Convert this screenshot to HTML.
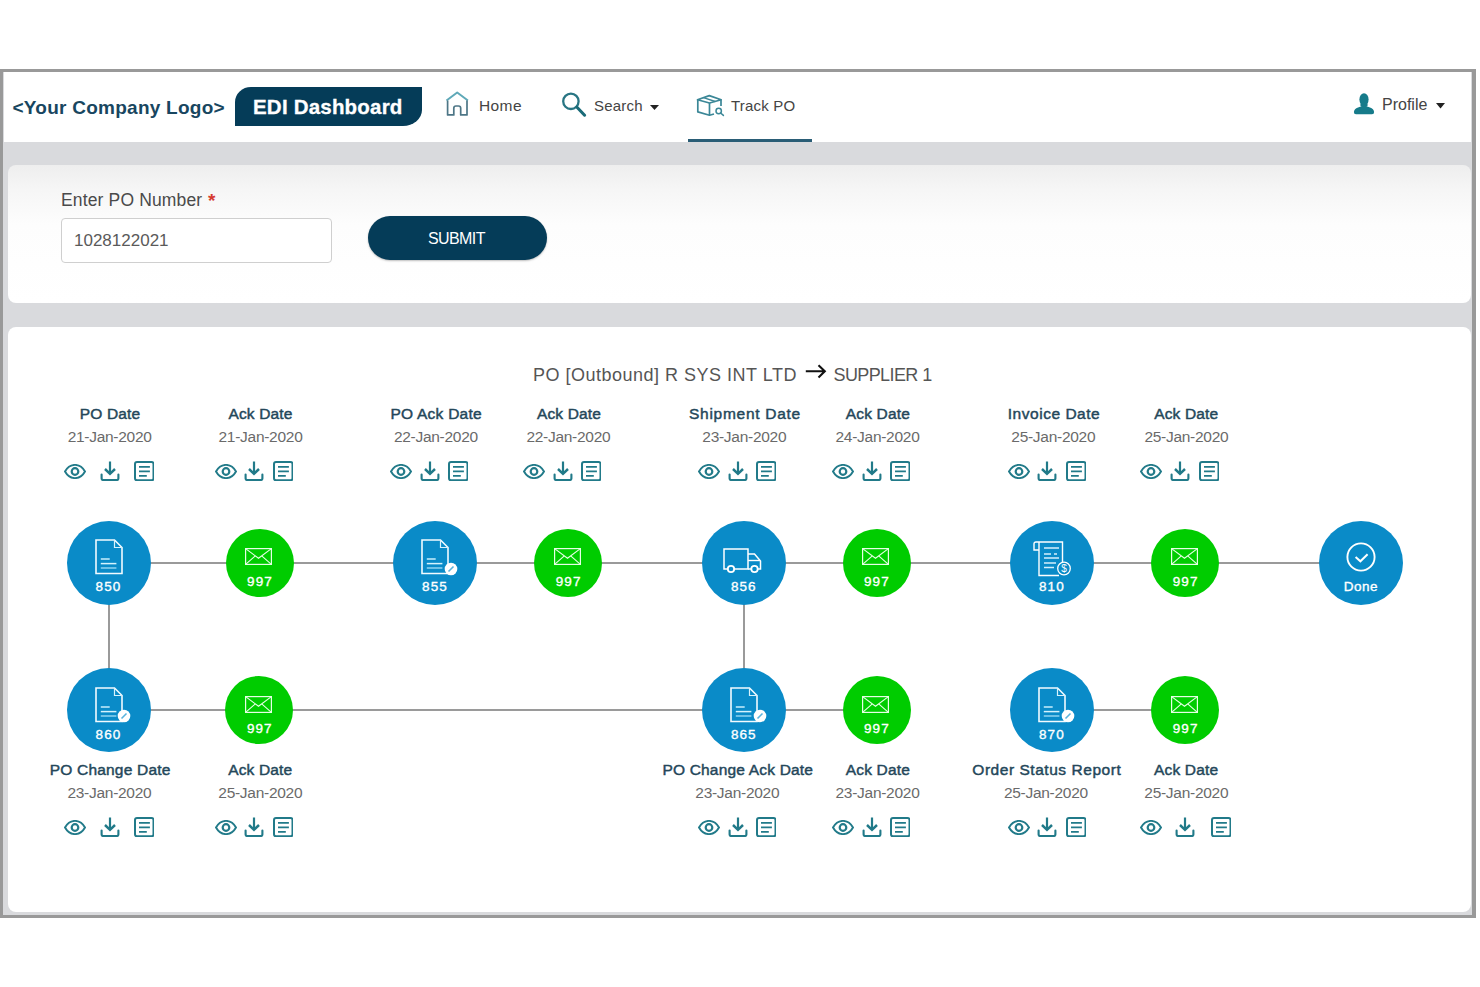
<!DOCTYPE html>
<html><head><meta charset="utf-8">
<style>
*{box-sizing:border-box}
html,body{margin:0;padding:0}
body{width:1480px;height:987px;background:#fff;position:relative;overflow:hidden;font-family:"Liberation Sans",sans-serif}
.a{position:absolute}
.frame{left:0;top:69px;width:1475.5px;height:849px;border-style:solid;border-color:#999;border-width:3px 4.5px 3px 3.5px;background:#d9dadd}
.nav{left:3.5px;top:72px;width:1467px;height:70px;background:#fff}
.card1{left:7.5px;top:165px;width:1463px;height:138px;border-radius:8px;background:linear-gradient(#eeeeee 0,#f6f6f6 25px,#fdfdfd 60px,#fff 100%)}
.card2{left:7.5px;top:327px;width:1463px;height:584.5px;border-radius:8px;background:#fff}
.t{position:absolute;white-space:nowrap;line-height:1}
.ctr{position:absolute;width:240px;text-align:center;white-space:nowrap;line-height:1}
.ttl{font-weight:400;font-size:15.5px;color:#24475a;-webkit-text-stroke:0.45px #24475a}
.dt{font-size:15.5px;color:#6a6a6a}
svg.i{position:absolute;overflow:visible}
.ln{position:absolute;background:#9a9a9a}
.circ{position:absolute;border-radius:50%}
.blue{background:#0a8bc8}
.green{background:#00cc00}
.num{position:absolute;width:60px;text-align:center;color:#fff;font-weight:400;font-size:13px;line-height:1;-webkit-text-stroke:0.35px #fff}
</style></head>
<body>
<div class="a frame"></div>
<div class="a nav"></div>
<div class="a card1"></div>
<div class="a card2"></div>

<!-- NAVBAR -->
<div class="t" style="left:12.5px;top:97.5px;font-size:19px;font-weight:700;color:#184660;letter-spacing:0.25px">&lt;Your Company Logo&gt;</div>
<div class="a" style="left:235px;top:86.8px;width:186.5px;height:39.4px;background:#053c58;border-radius:16px 0 19px 0 / 15px 0 16px 0"></div>
<div class="t" style="left:253px;top:97px;font-size:20.5px;font-weight:700;color:#fff;letter-spacing:0.2px;-webkit-text-stroke:0.3px #fff">EDI Dashboard</div>

<div class="t" style="left:479px;top:97.8px;font-size:15.5px;color:#444;letter-spacing:0.4px">Home</div>
<div class="t" style="left:594px;top:97.8px;font-size:15px;color:#444;letter-spacing:0.2px">Search</div>
<div class="t" style="left:731px;top:97.8px;font-size:15px;color:#444;letter-spacing:0.2px">Track PO</div>
<div class="t" style="left:1382px;top:96.5px;font-size:16px;color:#444">Profile</div>
<div class="a" style="left:687.5px;top:139px;width:124.5px;height:3.3px;background:#2a5d76"></div>

<!-- FORM -->
<div class="t" style="left:61px;top:191.5px;font-size:17.5px;color:#4a4a4a;letter-spacing:0.15px">Enter PO Number</div>
<div class="t" style="left:208px;top:190.8px;font-size:19px;font-weight:700;color:#d63b30">*</div>
<div class="a" style="left:61px;top:217.5px;width:271px;height:45px;border:1px solid #cfcfcf;border-radius:4px;background:#fff"></div>
<div class="t" style="left:74px;top:232px;font-size:17px;color:#5a5a5a">1028122021</div>
<div class="a" style="left:367.5px;top:216px;width:179px;height:44px;border-radius:22px;background:#053c58;box-shadow:0 1px 2px rgba(0,0,0,.25)"></div>
<div class="t" style="left:428px;top:230.8px;font-size:16px;color:#fff;letter-spacing:-0.6px">SUBMIT</div>

<!-- TITLE -->
<div class="t" style="left:533px;top:365.5px;font-size:18px;color:#555;letter-spacing:0.5px">PO [Outbound] R SYS INT LTD</div>
<div class="t" style="left:833.5px;top:365.5px;font-size:18px;color:#555;letter-spacing:-0.6px">SUPPLIER 1</div>


<!-- NAV ICONS -->
<svg class="i" style="left:440px;top:88px" width="35" height="32" viewBox="0 0 35 32">
<path d="M6.5,12.5 L17.2,4.5 L27.9,12.5" fill="none" stroke="#5fa9b8" stroke-width="2" stroke-linejoin="round"/>
<path d="M7.6,12.5 V26.9 H13.8 V20.2 Q13.8,18 16,18 H18.5 Q20.7,18 20.7,20.2 V26.9 H27 V12.5" fill="none" stroke="#4d7686" stroke-width="1.7" stroke-linejoin="round"/>
</svg>
<svg class="i" style="left:555px;top:88px" width="40" height="32" viewBox="0 0 40 32">
<circle cx="15.9" cy="13.3" r="7.7" fill="none" stroke="#287583" stroke-width="2.3"/>
<path d="M22,19.2 L29.6,27.2" stroke="#1a6b78" stroke-width="3.1" stroke-linecap="round"/>
</svg>
<svg class="i" style="left:650px;top:105px" width="9" height="5" viewBox="0 0 9 5"><path d="M0,0 H9 L4.5,5 Z" fill="#222"/></svg>
<svg class="i" style="left:692px;top:90px" width="36" height="30" viewBox="0 0 36 30">
<path d="M5.5,9.7 L17.3,5.6 L29.2,9.7 L17.5,13 Z" fill="none" stroke="#3b8797" stroke-width="1.7" stroke-linejoin="round"/>
<path d="M11.5,7.6 L23.2,11.5" stroke="#3b8797" stroke-width="1.4"/>
<path d="M5.8,9.7 V21.9 L17.5,25.2 L22,24" fill="none" stroke="#3b8797" stroke-width="1.7" stroke-linejoin="round"/>
<path d="M17.5,13 V25.2 M29,9.7 V16" fill="none" stroke="#3b8797" stroke-width="1.7"/>
<circle cx="26.7" cy="21" r="2.7" fill="none" stroke="#3b8797" stroke-width="1.5"/>
<path d="M28.6,23 L31.4,25.4" stroke="#3b8797" stroke-width="1.5" stroke-linecap="round"/>
</svg>
<svg class="i" style="left:1350px;top:90px" width="28" height="28" viewBox="0 0 28 28">
<ellipse cx="14" cy="9.6" rx="4.6" ry="6.4" fill="#167b8a"/>
<path d="M9.8,14.5 Q10.5,16 11.5,16.3 L8,17.5 Q4.2,18.8 3.9,22 Q3.8,24.2 6,24.2 H22 Q24.2,24.2 24.1,22 Q23.8,18.8 20,17.5 L16.5,16.3 Q17.5,16 18.2,14.5 Z" fill="#167b8a"/>
</svg>
<svg class="i" style="left:1435.5px;top:102.7px" width="9" height="5.5" viewBox="0 0 9 5.5"><path d="M0,0 H9 L4.5,5.5 Z" fill="#222"/></svg>
<svg class="i" style="left:804px;top:362px" width="24" height="18" viewBox="0 0 24 18">
<path d="M1.8,9.3 H20.5 M14.5,3.2 L20.8,9.3 L14.5,15.4" fill="none" stroke="#111" stroke-width="2.1" stroke-linejoin="miter"/>
</svg>
<svg width="0" height="0" style="position:absolute">
<defs>
<symbol id="eye" viewBox="0 0 22 15"><path d="M1,7.5 C3.8,2.5 7.4,0.9 11,0.9 C14.6,0.9 18.2,2.5 21,7.5 C18.2,12.5 14.6,14.1 11,14.1 C7.4,14.1 3.8,12.5 1,7.5 Z" fill="none" stroke="#217a89" stroke-width="1.9"/><circle cx="11" cy="7.5" r="3.3" fill="none" stroke="#217a89" stroke-width="2.2"/></symbol>
<symbol id="dl" viewBox="0 0 20 20"><path d="M10,0.5 V12" stroke="#217a89" stroke-width="2.2" fill="none"/><path d="M5,8 L10,12.8 L15,8" stroke="#217a89" stroke-width="2.5" fill="none" stroke-linejoin="miter"/><path d="M1.6,13.6 V17.5 Q1.6,19 3.1,19 H16.9 Q18.4,19 18.4,17.5 V13.6" stroke="#217a89" stroke-width="2.1" fill="none" stroke-linecap="round"/></symbol>
<symbol id="doc" viewBox="0 0 20 20"><rect x="1" y="1" width="18.5" height="18.3" rx="2" fill="none" stroke="#217a89" stroke-width="2"/><path d="M5,5.8 H15.9 M5,10.4 H15.9 M5,14.9 H12.8" stroke="#217a89" stroke-width="1.7"/></symbol>
<symbol id="env" viewBox="0 0 27 17"><rect x="0.6" y="0.6" width="25.8" height="15.8" fill="none" stroke="#e6ffe6" stroke-width="1.2"/><path d="M0.6,0.6 L13.5,10.2 L26.4,0.6 M0.6,16.4 L10.3,7.8 M26.4,16.4 L16.7,7.8" fill="none" stroke="#e6ffe6" stroke-width="1.1"/></symbol>
<symbol id="pdoc" viewBox="0 0 28 36"><path d="M1,1 H19.5 L27,8.5 V34.5 H1 Z" fill="none" stroke="#f2fbff" stroke-width="1.6"/><path d="M19.5,1.8 V8.5 H26.2" fill="none" stroke="#d8f2fc" stroke-width="1.2"/><path d="M5.8,20 H14.7" stroke="#c8eefc" stroke-width="1.5"/><path d="M5.8,24.6 H21.4" stroke="#d6f3fd" stroke-width="1.5"/><path d="M5.8,29 H21.4" stroke="#8fd3f0" stroke-width="1.5"/></symbol>
<symbol id="truck" viewBox="0 0 39 26"><path d="M1,1 H25 V21 H1 Z" fill="none" stroke="#fff" stroke-width="1.5"/><path d="M25,6 H31.5 L37.5,13 V21 H25" fill="none" stroke="#fff" stroke-width="1.5"/><path d="M25,12.5 H37" stroke="#fff" stroke-width="1.4"/><circle cx="8" cy="21" r="3.2" fill="#0a8bc8" stroke="#fff" stroke-width="1.8"/><circle cx="31.5" cy="21" r="3.2" fill="#0a8bc8" stroke="#fff" stroke-width="1.8"/></symbol>
<symbol id="inv" viewBox="0 0 38 36"><path d="M6,1 H29.5 V24" fill="none" stroke="#fff" stroke-width="1.4"/><path d="M6,1 V34.5 H26" fill="none" stroke="#fff" stroke-width="1.4"/><path d="M6,1 H3 Q1,1 1,3 V9 H6" fill="none" stroke="#fff" stroke-width="1.4"/><path d="M11,7 H26 M11,13 H18 M21,13 H24 M11,17 H26 M11,22 H23 M11,26.5 H21" stroke="#d5f0fb" stroke-width="1.4"/><circle cx="31" cy="27.5" r="6.3" fill="#0a8bc8" stroke="#fff" stroke-width="1.3"/><text x="31" y="31.3" text-anchor="middle" font-size="10" font-weight="400" fill="#fff" font-family="Liberation Sans">$</text></symbol>
<symbol id="chk" viewBox="0 0 30 30"><circle cx="15" cy="15" r="13.6" fill="none" stroke="#fff" stroke-width="1.9"/><path d="M9.6,15 L14.4,19.3 L21.6,12.2" fill="none" stroke="#fff" stroke-width="2"/></symbol>
<symbol id="badge" viewBox="0 0 14 14"><circle cx="7" cy="7" r="6.3" fill="#fff"/><path d="M4.5,9.5 L9.5,4.5" stroke="#5ab3dd" stroke-width="1.6"/></symbol>
</defs></svg>
<div class="ln" style="left:108.5px;top:561.5px;width:1252.5px;height:2px"></div>
<div class="ln" style="left:108.5px;top:709.2px;width:768.0px;height:2px"></div>
<div class="ln" style="left:1052px;top:709.2px;width:133px;height:2px"></div>
<div class="ln" style="left:107.7px;top:562.5px;width:2px;height:147.70000000000005px"></div>
<div class="ln" style="left:742.8px;top:562.5px;width:2px;height:147.70000000000005px"></div>
<div class="circ blue" style="left:66.5px;top:520.5px;width:84px;height:84px"></div>
<svg class="i" style="left:94.7px;top:539.1px" width="28" height="36" viewBox="0 0 28 36"><use href="#pdoc" width="28" height="36"/></svg>
<div class="num" style="left:78.5px;top:579.8px;font-size:13.5px;letter-spacing:1.1px">850</div>
<div class="circ green" style="left:225.60000000000002px;top:528.5px;width:68px;height:68px"></div>
<svg class="i" style="left:245.4px;top:548.2px" width="27" height="17" viewBox="0 0 27 17"><use href="#env" width="27" height="17"/></svg>
<div class="num" style="left:230.00000000000003px;top:574.5px;font-size:13.5px;letter-spacing:1.1px">997</div>
<div class="circ blue" style="left:393px;top:520.5px;width:84px;height:84px"></div>
<svg class="i" style="left:421.0px;top:539.1px" width="28" height="36" viewBox="0 0 28 36"><use href="#pdoc" width="28" height="36"/></svg>
<svg class="i" style="left:443.8px;top:561.7px" width="14" height="14" viewBox="0 0 14 14"><use href="#badge" width="14" height="14"/></svg>
<div class="num" style="left:405px;top:579.8px;font-size:13.5px;letter-spacing:1.1px">855</div>
<div class="circ green" style="left:534.3px;top:528.5px;width:68px;height:68px"></div>
<svg class="i" style="left:554.1px;top:548.2px" width="27" height="17" viewBox="0 0 27 17"><use href="#env" width="27" height="17"/></svg>
<div class="num" style="left:538.6999999999999px;top:574.5px;font-size:13.5px;letter-spacing:1.1px">997</div>
<div class="circ blue" style="left:701.8px;top:520.5px;width:84px;height:84px"></div>
<svg class="i" style="left:723.3px;top:547.8px" width="39" height="26" viewBox="0 0 39 26"><use href="#truck" width="39" height="26"/></svg>
<div class="num" style="left:713.8px;top:579.8px;font-size:13.5px;letter-spacing:1.1px">856</div>
<div class="circ green" style="left:842.5px;top:528.5px;width:68px;height:68px"></div>
<svg class="i" style="left:862.3px;top:548.2px" width="27" height="17" viewBox="0 0 27 17"><use href="#env" width="27" height="17"/></svg>
<div class="num" style="left:846.9px;top:574.5px;font-size:13.5px;letter-spacing:1.1px">997</div>
<div class="circ blue" style="left:1009.9000000000001px;top:520.5px;width:84px;height:84px"></div>
<svg class="i" style="left:1032.9px;top:540.5px" width="38" height="36" viewBox="0 0 38 36"><use href="#inv" width="38" height="36"/></svg>
<div class="num" style="left:1021.9000000000001px;top:579.8px;font-size:13.5px;letter-spacing:1.1px">810</div>
<div class="circ green" style="left:1151.2px;top:528.5px;width:68px;height:68px"></div>
<svg class="i" style="left:1171.0px;top:548.2px" width="27" height="17" viewBox="0 0 27 17"><use href="#env" width="27" height="17"/></svg>
<div class="num" style="left:1155.6000000000001px;top:574.5px;font-size:13.5px;letter-spacing:1.1px">997</div>
<div class="circ blue" style="left:1319px;top:520.5px;width:84px;height:84px"></div>
<svg class="i" style="left:1346.0px;top:542.0px" width="30" height="30" viewBox="0 0 30 30"><use href="#chk" width="30" height="30"/></svg>
<div class="num" style="left:1331px;top:579.8px;font-size:13.5px;letter-spacing:0.5px">Done</div>
<div class="circ blue" style="left:66.5px;top:668.2px;width:84px;height:84px"></div>
<svg class="i" style="left:94.5px;top:686.8px" width="28" height="36" viewBox="0 0 28 36"><use href="#pdoc" width="28" height="36"/></svg>
<svg class="i" style="left:117.3px;top:709.4px" width="14" height="14" viewBox="0 0 14 14"><use href="#badge" width="14" height="14"/></svg>
<div class="num" style="left:78.5px;top:727.5px;font-size:13.5px;letter-spacing:1.1px">860</div>
<div class="circ green" style="left:225.39999999999998px;top:676.2px;width:68px;height:68px"></div>
<svg class="i" style="left:245.2px;top:695.9px" width="27" height="17" viewBox="0 0 27 17"><use href="#env" width="27" height="17"/></svg>
<div class="num" style="left:229.79999999999998px;top:722.2px;font-size:13.5px;letter-spacing:1.1px">997</div>
<div class="circ blue" style="left:701.8px;top:668.2px;width:84px;height:84px"></div>
<svg class="i" style="left:729.8px;top:686.8px" width="28" height="36" viewBox="0 0 28 36"><use href="#pdoc" width="28" height="36"/></svg>
<svg class="i" style="left:752.6px;top:709.4px" width="14" height="14" viewBox="0 0 14 14"><use href="#badge" width="14" height="14"/></svg>
<div class="num" style="left:713.8px;top:727.5px;font-size:13.5px;letter-spacing:1.1px">865</div>
<div class="circ green" style="left:842.5px;top:676.2px;width:68px;height:68px"></div>
<svg class="i" style="left:862.3px;top:695.9px" width="27" height="17" viewBox="0 0 27 17"><use href="#env" width="27" height="17"/></svg>
<div class="num" style="left:846.9px;top:722.2px;font-size:13.5px;letter-spacing:1.1px">997</div>
<div class="circ blue" style="left:1009.9000000000001px;top:668.2px;width:84px;height:84px"></div>
<svg class="i" style="left:1037.9px;top:686.8px" width="28" height="36" viewBox="0 0 28 36"><use href="#pdoc" width="28" height="36"/></svg>
<svg class="i" style="left:1060.7px;top:709.4px" width="14" height="14" viewBox="0 0 14 14"><use href="#badge" width="14" height="14"/></svg>
<div class="num" style="left:1021.9000000000001px;top:727.5px;font-size:13.5px;letter-spacing:1.1px">870</div>
<div class="circ green" style="left:1151.2px;top:676.2px;width:68px;height:68px"></div>
<svg class="i" style="left:1171.0px;top:695.9px" width="27" height="17" viewBox="0 0 27 17"><use href="#env" width="27" height="17"/></svg>
<div class="num" style="left:1155.6000000000001px;top:722.2px;font-size:13.5px;letter-spacing:1.1px">997</div>
<div class="ctr ttl" style="left:-10.0px;top:406.1px;letter-spacing:0.13px">PO Date</div>
<div class="ctr dt" style="left:-10.4px;top:429.1px;letter-spacing:-0.28px">21-Jan-2020</div>
<svg class="i" style="left:63.7px;top:463.7px" width="22" height="15" viewBox="0 0 22 15"><use href="#eye" width="22" height="15"/></svg>
<svg class="i" style="left:99.5px;top:461.2px" width="20" height="20" viewBox="0 0 20 20"><use href="#dl" width="20" height="20"/></svg>
<svg class="i" style="left:134.1px;top:461.2px" width="20" height="20" viewBox="0 0 20 20"><use href="#doc" width="20" height="20"/></svg>
<div class="ctr ttl" style="left:140.5px;top:406.1px;letter-spacing:0.16px">Ack Date</div>
<div class="ctr dt" style="left:140.5px;top:429.1px;letter-spacing:-0.28px">21-Jan-2020</div>
<svg class="i" style="left:215.0px;top:463.7px" width="22" height="15" viewBox="0 0 22 15"><use href="#eye" width="22" height="15"/></svg>
<svg class="i" style="left:243.8px;top:461.2px" width="20" height="20" viewBox="0 0 20 20"><use href="#dl" width="20" height="20"/></svg>
<svg class="i" style="left:272.9px;top:461.2px" width="20" height="20" viewBox="0 0 20 20"><use href="#doc" width="20" height="20"/></svg>
<div class="ctr ttl" style="left:316.2px;top:406.1px;letter-spacing:0.25px">PO Ack Date</div>
<div class="ctr dt" style="left:315.9px;top:429.1px;letter-spacing:-0.28px">22-Jan-2020</div>
<svg class="i" style="left:390.0px;top:463.7px" width="22" height="15" viewBox="0 0 22 15"><use href="#eye" width="22" height="15"/></svg>
<svg class="i" style="left:419.9px;top:461.2px" width="20" height="20" viewBox="0 0 20 20"><use href="#dl" width="20" height="20"/></svg>
<svg class="i" style="left:448.0px;top:461.2px" width="20" height="20" viewBox="0 0 20 20"><use href="#doc" width="20" height="20"/></svg>
<div class="ctr ttl" style="left:449.0px;top:406.1px;letter-spacing:0.16px">Ack Date</div>
<div class="ctr dt" style="left:448.4px;top:429.1px;letter-spacing:-0.28px">22-Jan-2020</div>
<svg class="i" style="left:523.0px;top:463.7px" width="22" height="15" viewBox="0 0 22 15"><use href="#eye" width="22" height="15"/></svg>
<svg class="i" style="left:552.9px;top:461.2px" width="20" height="20" viewBox="0 0 20 20"><use href="#dl" width="20" height="20"/></svg>
<svg class="i" style="left:581.3px;top:461.2px" width="20" height="20" viewBox="0 0 20 20"><use href="#doc" width="20" height="20"/></svg>
<div class="ctr ttl" style="left:625.0px;top:406.1px;letter-spacing:0.72px">Shipment Date</div>
<div class="ctr dt" style="left:624.3px;top:429.1px;letter-spacing:-0.28px">23-Jan-2020</div>
<svg class="i" style="left:698.4px;top:463.7px" width="22" height="15" viewBox="0 0 22 15"><use href="#eye" width="22" height="15"/></svg>
<svg class="i" style="left:728.4px;top:461.2px" width="20" height="20" viewBox="0 0 20 20"><use href="#dl" width="20" height="20"/></svg>
<svg class="i" style="left:756.4px;top:461.2px" width="20" height="20" viewBox="0 0 20 20"><use href="#doc" width="20" height="20"/></svg>
<div class="ctr ttl" style="left:757.9px;top:406.1px;letter-spacing:0.16px">Ack Date</div>
<div class="ctr dt" style="left:757.5px;top:429.1px;letter-spacing:-0.28px">24-Jan-2020</div>
<svg class="i" style="left:831.5px;top:463.7px" width="22" height="15" viewBox="0 0 22 15"><use href="#eye" width="22" height="15"/></svg>
<svg class="i" style="left:861.7px;top:461.2px" width="20" height="20" viewBox="0 0 20 20"><use href="#dl" width="20" height="20"/></svg>
<svg class="i" style="left:889.5px;top:461.2px" width="20" height="20" viewBox="0 0 20 20"><use href="#doc" width="20" height="20"/></svg>
<div class="ctr ttl" style="left:934.0px;top:406.1px;letter-spacing:0.53px">Invoice Date</div>
<div class="ctr dt" style="left:933.3px;top:429.1px;letter-spacing:-0.28px">25-Jan-2020</div>
<svg class="i" style="left:1007.5px;top:463.7px" width="22" height="15" viewBox="0 0 22 15"><use href="#eye" width="22" height="15"/></svg>
<svg class="i" style="left:1036.9px;top:461.2px" width="20" height="20" viewBox="0 0 20 20"><use href="#dl" width="20" height="20"/></svg>
<svg class="i" style="left:1065.8px;top:461.2px" width="20" height="20" viewBox="0 0 20 20"><use href="#doc" width="20" height="20"/></svg>
<div class="ctr ttl" style="left:1066.3px;top:406.1px;letter-spacing:0.16px">Ack Date</div>
<div class="ctr dt" style="left:1066.4px;top:429.1px;letter-spacing:-0.28px">25-Jan-2020</div>
<svg class="i" style="left:1140.2px;top:463.7px" width="22" height="15" viewBox="0 0 22 15"><use href="#eye" width="22" height="15"/></svg>
<svg class="i" style="left:1170.0px;top:461.2px" width="20" height="20" viewBox="0 0 20 20"><use href="#dl" width="20" height="20"/></svg>
<svg class="i" style="left:1198.9px;top:461.2px" width="20" height="20" viewBox="0 0 20 20"><use href="#doc" width="20" height="20"/></svg>
<div class="ctr ttl" style="left:-9.9px;top:761.9px;letter-spacing:0.2px">PO Change Date</div>
<div class="ctr dt" style="left:-10.6px;top:784.9px;letter-spacing:-0.28px">23-Jan-2020</div>
<svg class="i" style="left:63.5px;top:819.5px" width="22" height="15" viewBox="0 0 22 15"><use href="#eye" width="22" height="15"/></svg>
<svg class="i" style="left:99.5px;top:817.0px" width="20" height="20" viewBox="0 0 20 20"><use href="#dl" width="20" height="20"/></svg>
<svg class="i" style="left:134.3px;top:817.0px" width="20" height="20" viewBox="0 0 20 20"><use href="#doc" width="20" height="20"/></svg>
<div class="ctr ttl" style="left:140.3px;top:761.9px;letter-spacing:0.16px">Ack Date</div>
<div class="ctr dt" style="left:140.3px;top:784.9px;letter-spacing:-0.28px">25-Jan-2020</div>
<svg class="i" style="left:214.9px;top:819.5px" width="22" height="15" viewBox="0 0 22 15"><use href="#eye" width="22" height="15"/></svg>
<svg class="i" style="left:243.7px;top:817.0px" width="20" height="20" viewBox="0 0 20 20"><use href="#dl" width="20" height="20"/></svg>
<svg class="i" style="left:272.6px;top:817.0px" width="20" height="20" viewBox="0 0 20 20"><use href="#doc" width="20" height="20"/></svg>
<div class="ctr ttl" style="left:617.8px;top:761.9px;letter-spacing:0.19px">PO Change Ack Date</div>
<div class="ctr dt" style="left:617.3px;top:784.9px;letter-spacing:-0.28px">23-Jan-2020</div>
<svg class="i" style="left:698.4px;top:819.5px" width="22" height="15" viewBox="0 0 22 15"><use href="#eye" width="22" height="15"/></svg>
<svg class="i" style="left:728.4px;top:817.0px" width="20" height="20" viewBox="0 0 20 20"><use href="#dl" width="20" height="20"/></svg>
<svg class="i" style="left:756.3px;top:817.0px" width="20" height="20" viewBox="0 0 20 20"><use href="#doc" width="20" height="20"/></svg>
<div class="ctr ttl" style="left:757.9px;top:761.9px;letter-spacing:0.16px">Ack Date</div>
<div class="ctr dt" style="left:757.5px;top:784.9px;letter-spacing:-0.28px">23-Jan-2020</div>
<svg class="i" style="left:832.0px;top:819.5px" width="22" height="15" viewBox="0 0 22 15"><use href="#eye" width="22" height="15"/></svg>
<svg class="i" style="left:861.6px;top:817.0px" width="20" height="20" viewBox="0 0 20 20"><use href="#dl" width="20" height="20"/></svg>
<svg class="i" style="left:889.7px;top:817.0px" width="20" height="20" viewBox="0 0 20 20"><use href="#doc" width="20" height="20"/></svg>
<div class="ctr ttl" style="left:926.8px;top:761.9px;letter-spacing:0.54px">Order Status Report</div>
<div class="ctr dt" style="left:925.9px;top:784.9px;letter-spacing:-0.28px">25-Jan-2020</div>
<svg class="i" style="left:1007.5px;top:819.5px" width="22" height="15" viewBox="0 0 22 15"><use href="#eye" width="22" height="15"/></svg>
<svg class="i" style="left:1036.9px;top:817.0px" width="20" height="20" viewBox="0 0 20 20"><use href="#dl" width="20" height="20"/></svg>
<svg class="i" style="left:1065.8px;top:817.0px" width="20" height="20" viewBox="0 0 20 20"><use href="#doc" width="20" height="20"/></svg>
<div class="ctr ttl" style="left:1066.1px;top:761.9px;letter-spacing:0.16px">Ack Date</div>
<div class="ctr dt" style="left:1066.3px;top:784.9px;letter-spacing:-0.28px">25-Jan-2020</div>
<svg class="i" style="left:1140.0px;top:819.5px" width="22" height="15" viewBox="0 0 22 15"><use href="#eye" width="22" height="15"/></svg>
<svg class="i" style="left:1175.4px;top:817.0px" width="20" height="20" viewBox="0 0 20 20"><use href="#dl" width="20" height="20"/></svg>
<svg class="i" style="left:1210.6px;top:817.0px" width="20" height="20" viewBox="0 0 20 20"><use href="#doc" width="20" height="20"/></svg>
</body></html>
